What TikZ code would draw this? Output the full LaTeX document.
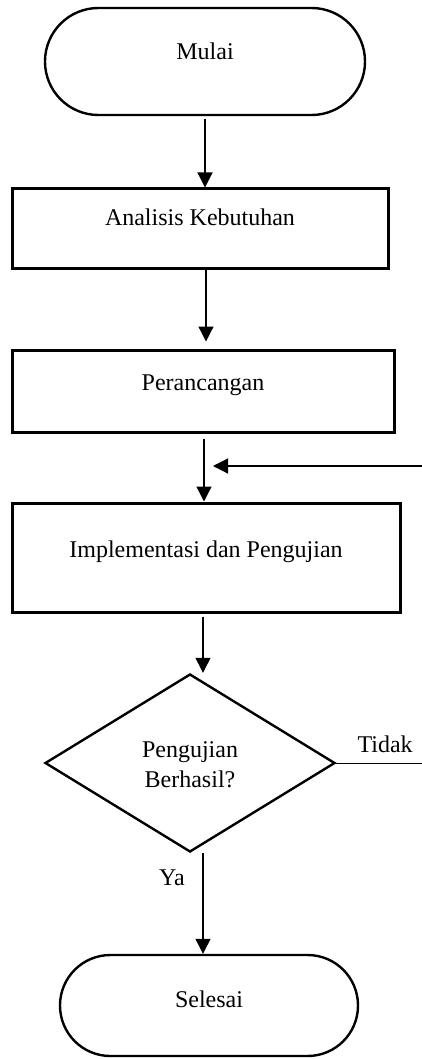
\documentclass[tikz,border=0pt]{standalone}
\usepackage{fontspec}
\setmainfont{Liberation Serif}
\usetikzlibrary{shapes.geometric,arrows.meta}
\begin{document}
\begin{tikzpicture}[x=0.5pt,y=-0.5pt,
  every node/.style={font=\fontsize{12}{15}\selectfont},
  procbox/.style={draw, line width=1.5pt, rectangle, inner sep=0pt},
  term/.style={draw, line width=1.2pt, rectangle, inner sep=0pt},
  decision/.style={draw, line width=1.2pt, diamond, inner sep=0pt},
  arr/.style={line width=0.6pt, -{Triangle[length=7.5pt,width=7.5pt]}},
  plainline/.style={line width=0.5pt},
  txt/.style={anchor=base, inner sep=0pt}
]
\useasboundingbox (0,0) rectangle (422,1059);

\node[term, minimum width=160pt, minimum height=53.5pt, rounded corners=26.7pt] (start) at (205,61.5) {};
\node[procbox, minimum width=188pt, minimum height=39.5pt] (ana) at (200,228.5) {};
\node[procbox, minimum width=191pt, minimum height=41pt] (per) at (203,391) {};
\node[procbox, minimum width=194pt, minimum height=54.5pt] (impl) at (206,557.5) {};
\node[decision, minimum width=145pt, minimum height=89pt] (dec) at (190,763) {};
\node[term, minimum width=149pt, minimum height=50.5pt, rounded corners=25.2pt] (end) at (209,1005.5) {};

\node[txt, yshift=0.75pt] (tstart) at (start.center) {Mulai};
\node[txt, yshift=1.25pt] (tana) at (ana.center) {Analisis Kebutuhan};
\node[txt, yshift=0.5pt] (tper) at (per.center) {Perancangan};
\node[txt, yshift=0.25pt] (timpl) at (impl.center) {Implementasi dan Pengujian};
\node[txt, yshift=3pt] (tdec1) at (dec.center) {Pengujian};
\node[txt, yshift=-12pt] (tdec2) at (dec.center) {Berhasil?};
\node[txt, yshift=-0.75pt] (tend) at (end.center) {Selesai};

\coordinate (c2) at (206,0);
\coordinate (c3) at (204,0);
\coordinate (c4) at (203,0);
\coordinate (fbstart) at (422,466);
\coordinate (fbend) at (213,466);
\coordinate (tidakx) at (422,0);

\draw[arr, shorten <=1.5pt] (start.south) -- (start.south |- ana.north);
\draw[arr, shorten >=3.5pt] (ana.south -| c2) -- (per.north -| c2);
\draw[arr, shorten <=2.5pt] (per.south -| c3) -- (impl.north -| c3);
\draw[arr] (fbstart) -- (fbend);
\draw[arr, shorten <=1.5pt] (impl.south -| c4) -- (dec.north -| c4);
\draw[plainline] (dec.east) -- (dec.east -| tidakx)
  node[pos=0.57, txt, yshift=5.5pt] (ttidak) {Tidak};
\draw[arr] (dec.south -| c4) -- (end.north -| c4)
  node[pos=0.32, txt, xshift=-15.5pt] (tya) {Ya};
\end{tikzpicture}
\end{document}
